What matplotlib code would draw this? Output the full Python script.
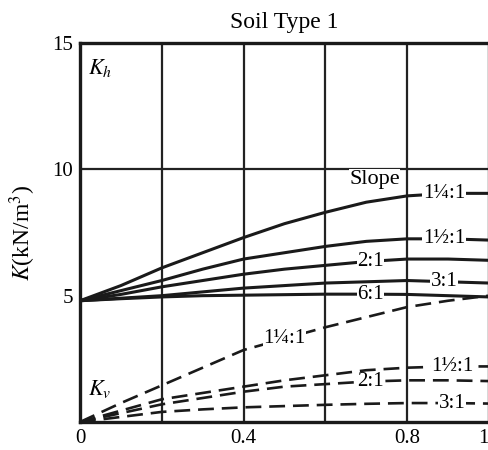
import matplotlib
matplotlib.use("Agg")
import matplotlib.pyplot as plt

plt.rcParams['font.family'] = ['Liberation Serif', 'DejaVu Serif']
plt.rcParams['mathtext.fontset'] = 'stix'

# Relative position along the x axis
x = [0, 0.1, 0.2, 0.3, 0.4, 0.5, 0.6, 0.7, 0.8, 0.9, 1.0]

# Horizontal stiffness K_h for each slope (solid curves)
kh_slopes = ["1¼:1", "1½:1", "2:1", "3:1", "6:1"]
kh_values = [
    [4.8, 5.4, 6.1, 6.7, 7.3, 7.85, 8.3, 8.7, 8.95, 9.05, 9.05],
    [4.8, 5.2, 5.6, 6.05, 6.45, 6.7, 6.95, 7.15, 7.25, 7.25, 7.2],
    [4.8, 5.05, 5.35, 5.6, 5.85, 6.05, 6.2, 6.35, 6.45, 6.45, 6.4],
    [4.8, 4.9, 5.0, 5.15, 5.3, 5.4, 5.5, 5.55, 5.6, 5.55, 5.5],
    [4.8, 4.88, 4.95, 5.0, 5.02, 5.04, 5.06, 5.06, 5.05, 5.0, 4.95],
]
kh_label_x = [0.89, 0.89, 0.71, 0.89, 0.71]

# Vertical stiffness K_v for each slope (dashed curves)
kv_slopes = ["1¼:1", "1½:1", "2:1", "3:1"]
kv_values = [
    [0, 0.75, 1.45, 2.15, 2.85, 3.3, 3.75, 4.15, 4.55, 4.8, 5.0],
    [0, 0.45, 0.9, 1.15, 1.4, 1.65, 1.85, 2.05, 2.15, 2.2, 2.2],
    [0, 0.35, 0.7, 0.95, 1.2, 1.4, 1.5, 1.6, 1.65, 1.65, 1.62],
    [0, 0.2, 0.4, 0.5, 0.58, 0.63, 0.68, 0.72, 0.75, 0.75, 0.73],
]
kv_label_x = [0.5, 0.91, 0.71, 0.91]

x_ticks = [0, 0.4, 0.8, 1.0]
x_tick_labels = ["0", "0.4", "0.8", "1"]
y_ticks = [5, 10, 15]


def value_at(xs, ys, xq):
    # linear lookup to place a label on its curve
    for i in range(len(xs) - 1):
        if xs[i] <= xq <= xs[i + 1]:
            t = (xq - xs[i]) / (xs[i + 1] - xs[i])
            return ys[i] + t * (ys[i + 1] - ys[i])
    return ys[-1]


fig = plt.figure(figsize=(4.89, 4.5), dpi=100)
ax = fig.add_axes([0.1636, 0.0622, 0.8364, 0.8422])

for gx in [0.2, 0.4, 0.6, 0.8]:
    ax.axvline(gx, color="#222222", lw=1.6, zorder=1)
ax.axhline(10, color="#222222", lw=1.6, zorder=1)

label_box = dict(facecolor="white", edgecolor="none", pad=0.3)

for name, vals, lx in zip(kh_slopes, kh_values, kh_label_x):
    ax.plot(x, vals, color="#1a1a1a", lw=2.2, zorder=2)
    ax.text(lx, value_at(x, vals, lx), name, fontsize=15, ha="center",
            va="center", bbox=label_box, zorder=3)

for name, vals, lx in zip(kv_slopes, kv_values, kv_label_x):
    ax.plot(x, vals, color="#1a1a1a", lw=1.9, dashes=(6, 3), zorder=2)
    ax.text(lx, value_at(x, vals, lx), name, fontsize=15, ha="center",
            va="center", bbox=label_box, zorder=3)

ax.text(0.72, 9.6, "Slope", fontsize=16, ha="center", va="center",
        bbox=dict(facecolor="white", edgecolor="none", pad=0.5), zorder=3)
ax.text(0.02, 14.0, "$K_h$", fontsize=16, ha="left", va="center")
ax.text(0.02, 1.3, "$K_v$", fontsize=16, ha="left", va="center")

ax.set_xlim(0, 1.0)
ax.set_ylim(0, 15)
ax.set_xticks(x_ticks)
ax.set_xticklabels(x_tick_labels)
ax.get_xticklabels()[-1].set_horizontalalignment("right")
ax.set_yticks(y_ticks)
ax.tick_params(length=0, labelsize=15, pad=5)
for sp in ax.spines.values():
    sp.set_linewidth(2.4)
    sp.set_color("#1a1a1a")

ax.set_title("Soil Type 1", fontsize=17, pad=11)
ax.set_ylabel("$K$(kN/m$^3$)", fontsize=17, labelpad=10)

fig.savefig("out.png", dpi=100)
